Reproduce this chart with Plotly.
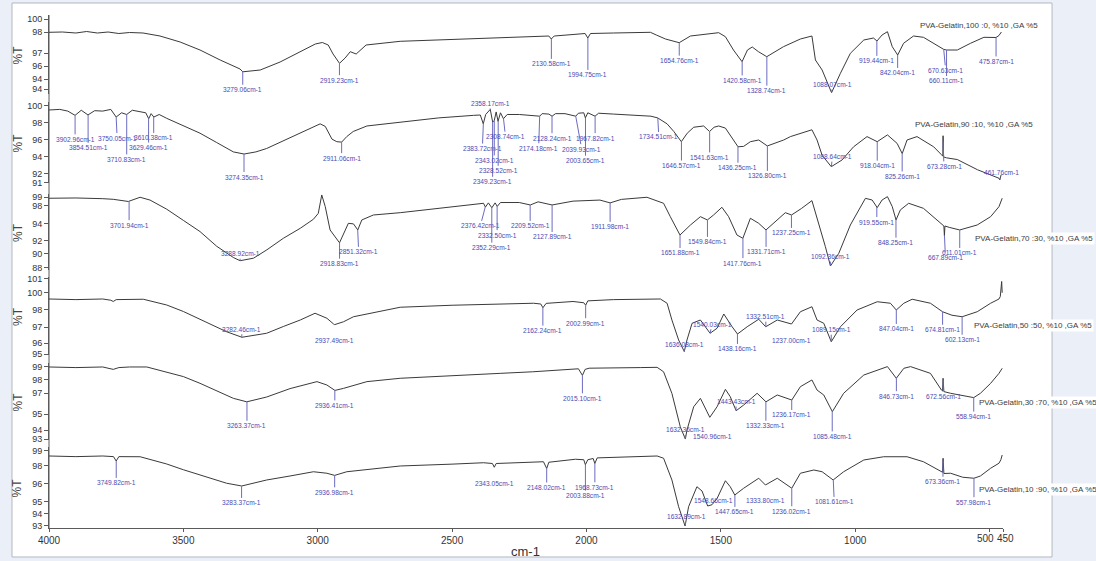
import numpy as np
import plotly.graph_objects as go

# ---------------- FTIR spectra: wavenumber (cm-1) and transmittance (%T) ----------------
wn_100_0 = [4000, 3950, 3900, 3860, 3820, 3780, 3740, 3700, 3650, 3587, 3512, 3438, 3363, 3289, 3279, 3214,
            3140, 3065, 3009, 2983, 2961, 2943, 2919, 2898, 2879, 2857, 2820, 2693, 2500, 2321, 2140, 2131,
            2120, 2050, 2005, 1995, 1985, 1900, 1762, 1740, 1706, 1655, 1613, 1508, 1483, 1453, 1421, 1401,
            1383, 1360, 1329, 1267, 1204, 1161, 1148, 1123, 1088, 1055, 1018, 968, 932, 919, 900, 880, 862,
            842, 820, 783, 746, 671, 660, 620, 571, 521, 476, 465, 456]
t_100_0 = [98.67, 98.7, 98.6, 98.75, 98.6, 98.7, 98.55, 98.65, 98.6, 98.3, 97.7, 96.9, 95.9, 95.0, 94.72, 94.9,
           95.7, 96.7, 97.5, 97.65, 97.4, 96.5, 95.57, 96.1, 96.73, 96.5, 97.4, 97.77, 97.95, 98.07, 98.3, 98.0,
           98.3, 98.45, 98.55, 98.1, 98.55, 98.6, 98.67, 98.4, 98.0, 97.63, 98.3, 98.63, 98.23, 96.9, 95.73, 96.9,
           97.2, 96.73, 96.23, 97.23, 98.0, 98.3, 95.9, 94.9, 92.63, 94.57, 96.57, 97.9, 98.1, 97.8, 98.4, 98.73, 97.23,
           96.4, 97.57, 98.3, 98.17, 96.97, 96.9, 96.9, 97.57, 98.17, 98.15, 98.35, 98.7]

wn_90_10 = [4000, 3960, 3930, 3903, 3880, 3855, 3830, 3800, 3770, 3750, 3730, 3711, 3690, 3660, 3640, 3629,
            3620, 3610, 3590, 3562, 3500, 3438, 3376, 3314, 3274, 3230, 3190, 3130, 3065, 2991, 2972, 2947,
            2929, 2911, 2892, 2868, 2817, 2693, 2550, 2420, 2395, 2384, 2375, 2358, 2349, 2343, 2336, 2329,
            2320, 2309, 2295, 2250, 2174, 2165, 2140, 2128, 2115, 2080, 2040, 2030, 2010, 2004, 1995, 1968,
            1955, 1900, 1824, 1760, 1735, 1700, 1675, 1647, 1625, 1601, 1564, 1542, 1525, 1508, 1483, 1452,
            1436, 1415, 1390, 1359, 1327, 1266, 1241, 1161, 1142, 1123, 1089, 1049, 1006, 956, 918, 880, 844,
            825, 807, 770, 708, 680, 674, 673, 671, 660, 620, 545, 496, 465, 462, 457]
t_90_10 = [99.53, 99.6, 99.4, 98.9, 99.5, 98.95, 99.45, 99.4, 99.6, 98.7, 99.2, 99.0, 99.5, 99.35, 99.2, 98.5,
           99.1, 98.7, 99.0, 98.55, 97.7, 96.8, 95.7, 94.6, 94.35, 94.6, 95.0, 95.9, 96.8, 97.9, 97.6, 96.1,
           95.8, 95.75, 96.4, 97.0, 97.65, 98.1, 98.6, 98.9, 98.94, 97.9, 99.0, 99.6, 98.1, 98.3, 99.3, 98.2,
           99.2, 98.5, 99.0, 99.0, 98.8, 99.1, 99.05, 98.8, 99.1, 99.1, 98.8, 99.15, 99.2, 98.6, 99.2, 98.8,
           99.15, 99.05, 98.94, 98.8, 98.6, 97.9, 97.0, 95.8, 96.8, 97.5, 97.65, 97.0, 97.5, 97.65, 97.4, 96.0,
           95.2, 95.25, 95.8, 96.0, 95.3, 96.0, 96.4, 97.2, 96.0, 94.2, 92.86, 93.65, 95.2, 96.4, 95.8, 96.6, 95.6,
           94.4, 96.0, 96.4, 95.2, 94.3, 94.1, 96.5, 94.0, 93.9, 93.7, 92.5, 91.9, 91.5, 91.3, 91.9]

wn_70_30 = [4000, 3900, 3800, 3761, 3705, 3661, 3624, 3562, 3500, 3438, 3376, 3314, 3289, 3239, 3189, 3128,
            3065, 3016, 2998, 2991, 2985, 2972, 2954, 2919, 2886, 2867, 2851, 2836, 2793, 2693, 2500, 2383,
            2376, 2365, 2352, 2340, 2332, 2320, 2250, 2209, 2180, 2128, 2050, 1950, 1912, 1870, 1775, 1713,
            1688, 1652, 1613, 1576, 1550, 1527, 1496, 1471, 1440, 1418, 1390, 1359, 1332, 1290, 1260, 1237,
            1200, 1161, 1136, 1111, 1092, 1061, 1018, 962, 937, 918, 900, 880, 862, 848, 832, 801, 746, 679,
            670, 668, 666, 650, 611, 546, 496, 465, 453]
t_70_30 = [97.96, 98.0, 97.9, 97.81, 97.5, 98.1, 97.7, 96.4, 94.8, 93.2, 91.1, 89.5, 89.04, 89.4, 90.6, 92.24,
           93.67, 94.96, 95.8, 97.24, 98.43, 96.76, 93.43, 91.6, 94.38, 94.3, 93.43, 94.86, 95.57, 95.9, 96.7, 97.24,
           96.7, 97.3, 96.6, 97.3, 96.8, 97.35, 97.35, 97.0, 97.45, 97.0, 97.55, 97.7, 97.3, 97.8, 98.1, 97.24,
           95.33, 92.71, 94.14, 95.33, 94.86, 95.57, 96.67, 95.33, 92.71, 92.24, 95.1, 94.38, 93.43, 94.9, 95.9, 95.57,
           96.5, 97.62, 94.38, 91.05, 88.29, 90.1, 94.14, 97.95, 97.71, 96.62, 97.71, 98.19, 96.76, 94.86, 96.29, 97.24, 96.52, 94.38,
           94.0, 92.6, 94.0, 93.8, 93.43, 94.14, 95.33, 96.76, 97.96]

wn_50_50 = [4000, 3900, 3800, 3770, 3761, 3750, 3649, 3562, 3500, 3438, 3339, 3282, 3190, 3128, 3065, 3010,
            2966, 2941, 2937, 2904, 2867, 2693, 2500, 2197, 2170, 2162, 2150, 2050, 2010, 2003, 1995, 1900,
            1725, 1700, 1682, 1657, 1636, 1626, 1607, 1576, 1540, 1514, 1489, 1458, 1438, 1402, 1359, 1333,
            1290, 1237, 1204, 1161, 1142, 1117, 1089, 1055, 993, 918, 869, 847, 819, 788, 720, 675, 640, 602,
            546, 496, 465, 460, 455, 453]
t_50_50 = [99.4, 99.35, 99.4, 99.3, 99.2, 99.35, 99.38, 98.92, 98.4, 97.78, 96.78, 96.34, 96.66, 97.2, 97.72, 98.26,
           97.86, 97.4, 97.35, 97.58, 97.98, 98.74, 98.9, 99.06, 99.0, 98.7, 99.05, 99.2, 99.1, 98.9, 99.25, 99.35,
           99.4, 99.06, 97.72, 96.12, 95.2, 96.12, 97.46, 97.72, 96.66, 97.06, 98.2, 97.18, 96.6, 97.18, 97.78, 97.18,
           97.72, 97.4, 98.38, 98.78, 97.72, 97.46, 95.98, 97.18, 98.52, 99.18, 99.06, 98.52, 99.06, 99.38, 99.06, 98.38, 98.1, 97.98,
           98.38, 99.06, 99.4, 99.6, 100.8, 99.9]

wn_30_70 = [4000, 3900, 3800, 3761, 3740, 3700, 3636, 3562, 3500, 3438, 3376, 3314, 3264, 3190, 3103, 3003,
            2966, 2941, 2936, 2904, 2817, 2693, 2500, 2321, 2200, 2073, 2030, 2015, 2005, 1990, 1900, 1800,
            1737, 1713, 1682, 1651, 1632, 1626, 1601, 1576, 1541, 1514, 1483, 1465, 1443, 1415, 1365, 1332,
            1290, 1236, 1204, 1161, 1142, 1117, 1085, 1043, 968, 880, 847, 819, 794, 720, 679, 675, 673, 670,
            645, 600, 559, 534, 496, 465, 453]
t_30_70 = [99.0, 98.95, 99.0, 98.8, 98.95, 99.0, 99.0, 98.6, 98.2, 97.64, 97.0, 96.39, 96.1, 96.5, 97.2, 97.78,
           97.5, 97.08, 97.05, 97.22, 97.78, 98.06, 98.3, 98.47, 98.6, 98.75, 98.85, 98.3, 98.8, 98.9, 98.9, 98.95,
           98.97, 98.6, 96.8, 94.03, 93.0, 93.75, 95.69, 96.39, 94.81, 95.69, 97.14, 96.53, 95.36, 95.83, 96.81, 96.1,
           96.67, 96.25, 97.36, 97.92, 97.08, 96.67, 95.28, 96.81, 98.33, 99.03, 98.06, 98.89, 99.03, 98.47, 97.08, 97.0, 98.06, 96.95,
           96.81, 96.6, 96.45, 96.81, 97.64, 98.47, 98.89]

wn_10_90 = [4000, 3900, 3800, 3760, 3750, 3740, 3661, 3562, 3500, 3438, 3339, 3283, 3190, 3103, 3016, 2966,
            2937, 2892, 2693, 2500, 2383, 2350, 2343, 2336, 2250, 2160, 2148, 2140, 2041, 2010, 2004, 1995,
            1975, 1969, 1960, 1900, 1737, 1713, 1682, 1657, 1633, 1620, 1589, 1570, 1549, 1533, 1514, 1483,
            1465, 1448, 1415, 1359, 1334, 1290, 1236, 1204, 1154, 1123, 1082, 1043, 968, 894, 807, 746, 679,
            675, 673, 670, 645, 600, 558, 534, 496, 465, 458, 453]
t_10_90 = [98.6, 98.55, 98.6, 98.55, 98.2, 98.55, 98.54, 97.96, 97.5, 97.08, 96.42, 96.2, 96.68, 97.0, 97.34, 97.22,
           97.05, 97.34, 97.8, 97.95, 98.06, 98.0, 97.7, 98.0, 98.05, 98.14, 97.6, 98.1, 98.34, 98.3, 97.9, 98.3,
           98.4, 98.0, 98.45, 98.5, 98.6, 98.42, 96.68, 94.54, 93.0, 94.54, 96.14, 95.8, 94.6, 94.7, 95.2, 96.62,
           96.14, 95.48, 96.02, 96.82, 96.28, 96.82, 96.02, 97.22, 97.48, 97.34, 96.68, 97.34, 98.28, 98.54, 98.54, 98.14, 97.34,
           97.3, 98.42, 97.2, 97.22, 96.9, 96.82, 97.0, 97.62, 98.02, 98.3, 98.68]

sample_names = ["PVA-Gelatin,100 :0, %10 ,GA %5", "PVA-Gelatin,90 :10, %10 ,GA %5",
                "PVA-Gelatin,70 :30, %10 ,GA %5", "PVA-Gelatin,50 :50, %10 ,GA %5",
                "PVA-Gelatin,30 :70, %10 ,GA %5", "PVA-Gelatin,10 :90, %10 ,GA %5"]

# picked peak wavenumbers for each spectrum
peaks_100_0 = [3279.06, 2919.23, 2130.58, 1994.75, 1654.76, 1420.58, 1328.74, 1088.07, 919.44, 842.04,
               670.63, 660.11, 475.87]
peaks_90_10 = [3902.96, 3854.51, 3750.05, 3710.83, 3629.46, 3610.38, 3274.35, 2911.06, 2383.72, 2358.17,
               2349.23, 2343.02, 2328.52, 2308.74, 2174.18, 2128.24, 2039.93, 2003.65, 1967.82, 1734.51,
               1646.57, 1541.63, 1436.25, 1326.80, 1088.64, 918.04, 825.26, 673.28, 461.76]
peaks_70_30 = [3701.94, 3288.92, 2918.83, 2851.32, 2376.42, 2352.29, 2332.50, 2209.52, 2127.89, 1911.98,
               1651.88, 1549.84, 1417.76, 1331.71, 1237.25, 1092.36, 919.55, 848.25, 667.89, 611.01]
peaks_50_50 = [3282.46, 2937.49, 2162.24, 2002.99, 1636.08, 1540.03, 1438.16, 1332.51, 1237.00, 1089.15,
               847.04, 674.81, 602.13]
peaks_30_70 = [3263.37, 2936.41, 2015.10, 1632.36, 1540.96, 1443.43, 1332.33, 1236.17, 1085.48, 846.73,
               672.56, 558.94]
peaks_10_90 = [3749.82, 3283.37, 2936.98, 2343.05, 2148.02, 2003.88, 1968.73, 1632.89, 1548.66, 1447.65,
               1333.80, 1236.02, 1081.61, 673.36, 557.98]

x_tick_vals = [4000, 3500, 3000, 2500, 2000, 1500, 1000, 500, 450]
x_tick_text = ["4000", "3500", "3000", "2500", "2000", "1500", "1000", "500", "450"]
# the two closely spaced end ticks get their labels set beside each other
x_tick_end = 2

y_tick_text = [["100", "98", "97", "96", "94", "94"],
               ["100", "98", "96", "94", "92", "91"],
               ["99", "98", "94", "92", "90", "88"],
               ["101", "100", "98", "97", "96", "95"],
               ["99", "98", "97", "95", "94", "93"],
               ["99", "98", "96", "95", "94", "93"]]

# ---------------- layout settings (per panel) ----------------
y_tick_pos = [[100.0, 98.7, 96.6, 95.3, 94.0, 93.0],
              [100, 98, 96, 94, 92, 91],
              [98.1, 96.9, 94.29, 91.86, 90, 88],
              [101, 99.88, 98.52, 97.16, 95.88, 95.0],
              [99, 97.92, 96.83, 95.08, 93.75, 93.0],
              [99, 97.8, 96.36, 94.92, 93.96, 93.0]]
y_ranges = [[92.5, 100.4], [90.94, 100.47], [87.71, 98.57], [94.92, 101.16], [92.92, 99.33], [92.84, 99.32]]
y_domains = [[0.8460, 1.0], [0.6725, 0.8304], [0.5029, 0.6511], [0.3372, 0.4893], [0.1715, 0.3216], [0.0, 0.1579]]

# label placement offsets (pixels) : (ax, ay)
label_offsets = [
    [(0, 18), (0, 17), (0, 25), (0, 37), (0, 18), (0, 19), (0, 34), (1, -8), (0, 20), (0, 18), (2, 21), (0, 31), (0, 24)],
    [(0, 24), (0, 33), (1, 21), (0, 45), (0, 29), (0, 21), (0, 23), (0, 16), (-1, 25), (0, -6), (0, 60), (0, 40),
     (0, 50), (2, 18), (-1, 32), (0, 22), (6, 33), (0, 43), (0, 22), (1, 19), (0, 24), (0, 26), (0, 21), (0, 30),
     (1, -10), (0, 24), (0, 23), (1, 25), (2, -7)],
    [(0, 24), (0, -7), (0, 21), (1, 22), (-5, 19), (0, 40), (0, 29), (0, 21), (0, 32), (0, 24), (0, 18), (0, 22),
     (0, 25), (0, 22), (0, 18), (0, -9), (0, 15), (0, 23), (1, 22), (0, 23)],
    [(0, -8), (0, 16), (0, 23), (0, 18), (0, -7), (2, -9), (0, 15), (0, -10), (0, 16), (0, -12), (0, 19), (0, 18), (0, 23)],
    [(0, 24), (0, 15), (0, 23), (0, -9), (3, 19), (0, -9), (0, 24), (0, 15), (0, 25), (0, 18), (0, 16), (0, 19)],
    [(0, 22), (0, 17), (0, 17), (0, 16), (0, 19), (0, 31), (0, 24), (1, -9), (6, -5), (0, 17), (0, 16), (0, 23),
     (1, 22), (0, 21), (0, 24)],
]

legend_pos = [(0.9109, 0.9786), (0.9057, 0.7856), (0.9686, 0.5653), (0.9675, 0.3938), (0.9727, 0.2437), (0.9727, 0.0741)]

spectra = [(wn_100_0, t_100_0), (wn_90_10, t_90_10), (wn_70_30, t_70_30),
           (wn_50_50, t_50_50), (wn_30_70, t_30_70), (wn_10_90, t_10_90)]
peak_sets = [peaks_100_0, peaks_90_10, peaks_70_30, peaks_50_50, peaks_30_70, peaks_10_90]

NARROW = "Liberation Sans Narrow, Arial Narrow, Liberation Sans, Arial, sans-serif"
LINE_COL = "#3a3a3a"
PEAK_TXT = "#4a4ab2"
PEAK_LINE = "#6b6bc0"
AXIS_COL = "#5a5a5a"
TICK_FONT = dict(family=NARROW, size=10, color="#333333")

fig = go.Figure()
annotations = []
layout_axes = {}

for i, (wn, t) in enumerate(spectra):
    n = "" if i == 0 else str(i + 1)
    yname = "y" + n
    fig.add_trace(go.Scatter(x=wn, y=t, xaxis="x", yaxis=yname, mode="lines",
                             line=dict(color=LINE_COL, width=1), showlegend=False,
                             hoverinfo="skip"))
    layout_axes["yaxis" + n] = dict(
        domain=y_domains[i], range=y_ranges[i], anchor="x",
        tickmode="array", tickvals=y_tick_pos[i], ticktext=y_tick_text[i],
        ticks="outside", ticklen=4, tickcolor=AXIS_COL, tickwidth=1,
        showline=True, linecolor=AXIS_COL, linewidth=1,
        showgrid=False, zeroline=False,
        tickfont=dict(family=NARROW, size=9, color="#333333"),
    )
    # sorted copy for reading the curve height under each picked peak
    wn_arr = np.array(wn, dtype=float)[::-1]
    t_arr = np.array(t, dtype=float)[::-1]
    for p, (ax, ay) in zip(peak_sets[i], label_offsets[i]):
        yv = float(np.interp(p, wn_arr, t_arr))
        annotations.append(dict(
            x=p, y=yv, xref="x", yref=yname, text=f"{p:.2f}cm-1",
            showarrow=True, arrowhead=0, arrowwidth=1, arrowcolor=PEAK_LINE,
            ax=ax, ay=ay, standoff=0,
            font=dict(family=NARROW, size=6.6, color=PEAK_TXT),
        ))
    # sample name
    lx, ly = legend_pos[i]
    annotations.append(dict(
        x=lx, y=ly, xref="paper", yref="paper", xanchor="left", yanchor="middle",
        text=sample_names[i], showarrow=False, bgcolor="white", borderpad=1,
        font=dict(family=NARROW, size=8, color="#3c3c3c"),
    ))
    # %T axis caption
    annotations.append(dict(
        x=-0.0325, y=(y_domains[i][0] + y_domains[i][1]) / 2, xref="paper", yref="paper",
        text="%T", textangle=-90, showarrow=False, xanchor="center", yanchor="middle",
        font=dict(family="Liberation Sans, Arial, sans-serif", size=12, color="#444444"),
    ))

# labels of the two end ticks (500 / 450), set right- and left-aligned so they sit side by side
annotations.append(dict(x=x_tick_vals[-2], y=0, xref="x", yref="paper", text=x_tick_text[-2],
                        showarrow=False, xanchor="right", yanchor="top", xshift=5, yshift=-4,
                        borderpad=0, font=TICK_FONT))
annotations.append(dict(x=x_tick_vals[-1], y=0, xref="x", yref="paper", text=x_tick_text[-1],
                        showarrow=False, xanchor="left", yanchor="top", xshift=-7, yshift=-4,
                        borderpad=0, font=TICK_FONT))

annotations.append(dict(
    x=0.499, y=-0.046, xref="paper", yref="paper", text="cm-1", showarrow=False,
    xanchor="center", yanchor="middle",
    font=dict(family=NARROW, size=13, color="#333333"),
))

fig.update_layout(
    width=1096, height=561,
    margin=dict(l=49, r=93, t=15, b=33),
    paper_bgcolor="#ebeff8",
    plot_bgcolor="rgba(0,0,0,0)",
    xaxis=dict(
        domain=[0, 1], range=[4000, 450], anchor="y6",
        tickmode="array", tickvals=x_tick_vals,
        ticktext=x_tick_text[:-x_tick_end] + [""] * x_tick_end, tickangle=0,
        ticks="outside", ticklen=3, tickcolor=AXIS_COL,
        showline=True, linecolor=AXIS_COL, linewidth=1,
        showgrid=False, zeroline=False,
        tickfont=TICK_FONT,
    ),
    annotations=annotations,
    shapes=[
        dict(type="rect", xref="paper", yref="paper", x0=-0.0388, x1=1.0514, y0=-0.0565, y1=1.0234,
             fillcolor="white", line=dict(color="#b4b8c0", width=1), layer="below"),
        dict(type="line", xref="paper", yref="paper", x0=0, x1=0, y0=0, y1=1,
             line=dict(color=AXIS_COL, width=1), layer="below"),
    ],
    **layout_axes,
)

fig.write_html("out.html")
